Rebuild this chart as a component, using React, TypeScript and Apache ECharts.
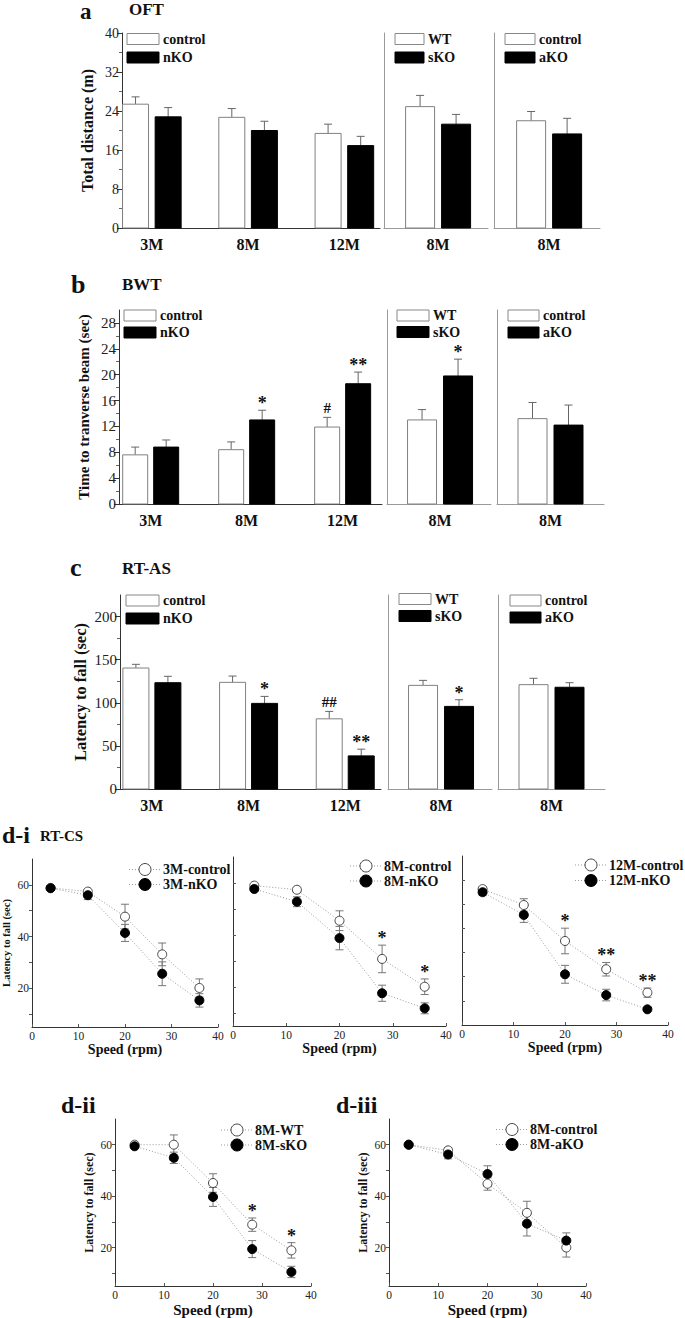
import React, { useEffect, useRef } from "react";
import * as echarts from "echarts";

const SERIF = '"Liberation Serif", "Times New Roman", serif';

// ---------------- DATA ----------------
const AGE_GROUPS = ["3M", "8M", "12M"];
const SINGLE_GROUP = ["8M"];

// a) OFT – total distance (m)
const OFT_TICKS = [0, 8, 16, 24, 32, 40];
const OFT_CONTROL = [25.4, 22.7, 19.4];
const OFT_CONTROL_SEM = [1.5, 1.8, 1.9];
const OFT_NKO = [22.8, 20.0, 16.9];
const OFT_NKO_SEM = [1.9, 1.9, 1.9];
const OFT_WT = [24.9];
const OFT_WT_SEM = [2.3];
const OFT_SKO = [21.3];
const OFT_SKO_SEM = [2.0];
const OFT_ACONTROL = [22.0];
const OFT_ACONTROL_SEM = [1.9];
const OFT_AKO = [19.3];
const OFT_AKO_SEM = [3.2];

// b) BWT – time to traverse beam (sec)
const BWT_TICKS = [0, 4, 8, 12, 16, 20, 24, 28];
const BWT_CONTROL = [7.6, 8.4, 11.9];
const BWT_CONTROL_SEM = [1.2, 1.2, 1.5];
const BWT_CONTROL_SIG = ["", "", "#"];
const BWT_NKO = [8.8, 13.0, 18.6];
const BWT_NKO_SEM = [1.1, 1.5, 1.8];
const BWT_NKO_SIG = ["", "*", "**"];
const BWT_WT = [13.0];
const BWT_WT_SEM = [1.6];
const BWT_SKO = [19.8];
const BWT_SKO_SEM = [2.6];
const BWT_SKO_SIG = ["*"];
const BWT_ACONTROL = [13.2];
const BWT_ACONTROL_SEM = [2.5];
const BWT_AKO = [12.2];
const BWT_AKO_SEM = [3.1];

// c) RT-AS – latency to fall (sec)
const RTAS_TICKS = [0, 50, 100, 150, 200];
const RTAS_CONTROL = [140.3, 123.7, 81.4];
const RTAS_CONTROL_SEM = [4.3, 7.3, 8.6];
const RTAS_CONTROL_SIG = ["", "", "##"];
const RTAS_NKO = [123.3, 99.3, 38.4];
const RTAS_NKO_SEM = [7.4, 8.1, 7.8];
const RTAS_NKO_SIG = ["", "*", "**"];
const RTAS_WT = [120.2];
const RTAS_WT_SEM = [5.8];
const RTAS_SKO = [95.8];
const RTAS_SKO_SEM = [7.7];
const RTAS_SKO_SIG = ["*"];
const RTAS_ACONTROL = [121.0];
const RTAS_ACONTROL_SEM = [7.4];
const RTAS_AKO = [118.0];
const RTAS_AKO_SEM = [5.3];

// d) RT-CS – latency to fall (sec) vs speed (rpm)
const SPEEDS = [4, 12, 20, 28, 36];
const SPEED_TICKS = [0, 10, 20, 30, 40];
const LAT_TICKS = [10, 20, 30, 40, 50, 60];
const LAT_LABELS = [20, 40, 60];

const CS_3M_CONTROL = [58.8, 57.4, 47.7, 33.1, 20.1];
const CS_3M_CONTROL_SEM = [0.5, 0.8, 4.8, 4.4, 3.5];
const CS_3M_NKO = [58.7, 56.0, 41.4, 25.6, 15.3];
const CS_3M_NKO_SEM = [0.8, 1.7, 3.3, 4.6, 2.6];

const CS_8M_CONTROL = [59.0, 57.4, 45.5, 30.8, 20.1];
const CS_8M_CONTROL_SEM = [0.6, 1.0, 3.8, 5.3, 3.0];
const CS_8M_CONTROL_SIG = ["", "", "", "*", "*"];
const CS_8M_NKO = [57.7, 52.8, 38.8, 17.6, 11.8];
const CS_8M_NKO_SEM = [0.6, 1.9, 4.5, 3.1, 2.1];

const CS_12M_CONTROL = [56.3, 49.7, 34.8, 23.1, 13.4];
const CS_12M_CONTROL_SEM = [0.8, 2.6, 5.3, 2.8, 1.9];
const CS_12M_CONTROL_SIG = ["", "", "*", "**", "**"];
const CS_12M_NKO = [55.0, 45.6, 21.0, 12.4, 6.5];
const CS_12M_NKO_SEM = [1.4, 3.1, 3.7, 2.4, 0.8];

const CS_WT = [60.0, 60.0, 45.1, 28.9, 18.9];
const CS_WT_SEM = [0.5, 3.8, 3.6, 2.6, 3.0];
const CS_WT_SIG = ["", "", "", "*", "*"];
const CS_SKO = [59.4, 54.9, 39.7, 19.4, 10.5];
const CS_SKO_SEM = [0.8, 2.2, 3.7, 3.3, 2.2];

const CS_ACONTROL = [60.0, 57.8, 44.8, 33.5, 20.0];
const CS_ACONTROL_SEM = [0.4, 1.1, 2.5, 4.5, 3.7];
const CS_AKO = [60.0, 56.2, 48.6, 29.3, 22.7];
const CS_AKO_SEM = [0.4, 1.7, 3.2, 4.8, 3.0];

// ---------------- BUILDERS ----------------
type Ctx = { grid: any[]; xAxis: any[]; yAxis: any[]; series: any[]; graphic: any[] };

type BarGroup = { name: string; values: number[]; sem: number[]; sig?: string[]; dark: boolean };
type BarPanel = {
  left: number; top: number; width: number; height: number;
  cats: string[]; xMax: number; shift: number;
  yMax: number; interval: number; ticks: number[]; main: boolean;
  tickFont?: number;
  groups: BarGroup[]; barW: number; off: number;
  yName?: string; yNameGap?: number; yNameSize?: number;
  legX: number; legY1: number; legY2: number; legW: number;
};

function textEl(x: number, y: number, text: string, size: number, bold = true, align = "left") {
  return {
    type: "text", x, y, silent: true,
    style: { text, fontFamily: SERIF, fontWeight: bold ? "bold" : "normal", fontSize: size, fill: "#111", align, verticalAlign: "middle" },
  };
}

function addBarPanel(ctx: Ctx, p: BarPanel) {
  const gi = ctx.grid.length;
  const axisColor = p.main ? "#333" : "#9a9a9a";
  ctx.grid.push({ left: p.left, top: p.top, width: p.width, height: p.height });
  ctx.xAxis.push({
    type: "value", gridIndex: gi, min: 0, max: p.xMax,
    axisLine: { show: true, onZero: false, lineStyle: { color: axisColor, width: 1 } },
    axisTick: { show: false }, splitLine: { show: false },
    axisLabel: {
      customValues: p.cats.map((_, i) => i + p.shift),
      formatter: (v: number) => p.cats[Math.round(v - p.shift)] ?? "",
      fontFamily: SERIF, fontWeight: "bold", fontSize: 16, color: "#111", margin: 8,
    },
  });
  ctx.yAxis.push({
    type: "value", gridIndex: gi, min: 0, max: p.yMax, interval: p.interval,
    axisLine: { show: true, lineStyle: { color: axisColor, width: 1 } },
    axisTick: p.main ? { show: true, inside: false, length: 5, customValues: p.ticks, lineStyle: { color: "#333" } } : { show: false },
    minorTick: p.main ? { show: true, splitNumber: 2, length: 3, lineStyle: { color: "#666" } } : { show: false },
    axisLabel: p.main ? { show: true, customValues: p.ticks, fontFamily: SERIF, fontSize: p.tickFont ?? 15, color: "#222", margin: 3 } : { show: false },
    splitLine: { show: false },
    name: p.yName, nameLocation: "middle", nameGap: p.yNameGap ?? 30,
    nameTextStyle: { fontFamily: SERIF, fontWeight: "bold", fontSize: p.yNameSize ?? 16, color: "#111" },
  });
  p.groups.forEach((g, k) => {
    const off = (k === 0 ? -1 : 1) * p.off;
    ctx.series.push({
      type: "custom", name: g.name, xAxisIndex: gi, yAxisIndex: gi, silent: true,
      data: g.values.map((v, i) => [i + p.shift, v, g.sem[i]]),
      renderItem: (params: any, api: any) => {
        const x = api.value(0), v = api.value(1), e = api.value(2);
        const pt = api.coord([x, v]);
        const base = api.coord([x, 0]);
        const et = api.coord([x, v + e]);
        const cx = pt[0] + off;
        const children: any[] = [
          { type: "line", shape: { x1: cx, y1: pt[1], x2: cx, y2: et[1] }, style: { stroke: "#666", lineWidth: 1 } },
          { type: "line", shape: { x1: cx - 4, y1: et[1], x2: cx + 4, y2: et[1] }, style: { stroke: "#666", lineWidth: 1 } },
          { type: "rect", shape: { x: cx - p.barW / 2, y: pt[1], width: p.barW, height: base[1] - pt[1] },
            style: { fill: g.dark ? "#000" : "#fff", stroke: g.dark ? "#000" : "#808080", lineWidth: 1 } },
        ];
        const sig = g.sig ? g.sig[params.dataIndex] : "";
        if (sig) {
          const isHash = sig.startsWith("#");
          children.push({
            type: "text", x: cx, y: et[1] - (isHash ? 9 : 7),
            style: { text: sig, fontFamily: SERIF, fontWeight: "bold", fontSize: isHash ? 15 : 18, fill: "#111", align: "center", verticalAlign: "middle" },
          });
        }
        return { type: "group", children };
      },
    });
  });
  const rows = [
    { y: p.legY1, g: p.groups[0] },
    { y: p.legY2, g: p.groups[1] },
  ];
  rows.forEach((r) => {
    ctx.graphic.push({
      type: "rect", silent: true,
      shape: { x: p.legX, y: r.y - 5.5, width: p.legW, height: 11 },
      style: { fill: r.g.dark ? "#000" : "#fff", stroke: r.g.dark ? "#000" : "#888", lineWidth: 1 },
    });
    ctx.graphic.push(textEl(p.legX + p.legW + 4, r.y, r.g.name, 14));
  });
}

type LineGroup = { name: string; values: number[]; sem: number[]; filled: boolean; sig?: string[] };
type LinePanel = {
  left: number; top: number; width: number; height: number;
  yMin: number; yMax: number; labels: boolean;
  yName?: string; yNameGap?: number; yNameSize?: number; xNameSize: number;
  groups: LineGroup[];
  legCx: number; legY: number; legGap: number;
};

function addLinePanel(ctx: Ctx, p: LinePanel) {
  const gi = ctx.grid.length;
  ctx.grid.push({ left: p.left, top: p.top, width: p.width, height: p.height });
  ctx.xAxis.push({
    type: "value", gridIndex: gi, min: 0, max: 40, interval: 10,
    axisLine: { show: true, onZero: false, lineStyle: { color: "#333" } },
    axisTick: { show: true, inside: true, length: 3, customValues: SPEED_TICKS, lineStyle: { color: "#555" } },
    splitLine: { show: false },
    axisLabel: { customValues: SPEED_TICKS, fontFamily: SERIF, fontSize: 11.5, color: "#222", margin: 3 },
    name: "Speed (rpm)", nameLocation: "middle", nameGap: 14,
    nameTextStyle: { fontFamily: SERIF, fontWeight: "bold", fontSize: p.xNameSize, color: "#111", verticalAlign: "top" },
  });
  ctx.yAxis.push({
    type: "value", gridIndex: gi, min: p.yMin, max: p.yMax,
    axisLine: { show: true, lineStyle: { color: "#333" } },
    axisTick: { show: true, inside: !p.labels, length: 3, customValues: LAT_TICKS, lineStyle: { color: "#555" } },
    axisLabel: p.labels ? { show: true, customValues: LAT_LABELS, fontFamily: SERIF, fontSize: 11.5, color: "#222", margin: 3 } : { show: false },
    splitLine: { show: false },
    name: p.yName, nameLocation: "middle", nameGap: p.yNameGap ?? 20,
    nameTextStyle: { fontFamily: SERIF, fontWeight: "bold", fontSize: p.yNameSize ?? 11, color: "#111" },
  });
  p.groups.forEach((g) => {
    ctx.series.push({
      type: "custom", xAxisIndex: gi, yAxisIndex: gi, z: 2, silent: true,
      data: SPEEDS.map((s, i) => [s, g.values[i], g.sem[i]]),
      renderItem: (params: any, api: any) => {
        const x = api.value(0), v = api.value(1), e = api.value(2);
        const hi = api.coord([x, v + e]);
        const lo = api.coord([x, v - e]);
        const cx = hi[0];
        const st = { stroke: "#777", lineWidth: 1 };
        const children: any[] = [
          { type: "line", shape: { x1: cx, y1: hi[1], x2: cx, y2: lo[1] }, style: st },
          { type: "line", shape: { x1: cx - 4, y1: hi[1], x2: cx + 4, y2: hi[1] }, style: st },
          { type: "line", shape: { x1: cx - 4, y1: lo[1], x2: cx + 4, y2: lo[1] }, style: st },
        ];
        const sig = g.sig ? g.sig[params.dataIndex] : "";
        if (sig) {
          children.push({
            type: "text", x: cx, y: hi[1] - 7,
            style: { text: sig, fontFamily: SERIF, fontWeight: "bold", fontSize: 18, fill: "#111", align: "center", verticalAlign: "middle" },
          });
        }
        return { type: "group", children };
      },
    });
    ctx.series.push({
      type: "line", name: g.name, xAxisIndex: gi, yAxisIndex: gi, z: 3, silent: true,
      data: SPEEDS.map((s, i) => [s, g.values[i]]),
      symbol: "circle", symbolSize: 9,
      itemStyle: { color: g.filled ? "#000" : "#fff", borderColor: g.filled ? "#000" : "#444", borderWidth: 1 },
      lineStyle: { color: "#9a9a9a", width: 1, type: [1, 2] },
    });
  });
  p.groups.forEach((g, k) => {
    const y = p.legY + k * p.legGap;
    ctx.graphic.push({
      type: "line", silent: true,
      shape: { x1: p.legCx - 16, y1: y, x2: p.legCx + 15, y2: y },
      style: { stroke: "#9a9a9a", lineWidth: 1, lineDash: [1, 2] },
    });
    ctx.graphic.push({
      type: "circle", silent: true,
      shape: { cx: p.legCx, cy: y, r: 6 },
      style: { fill: g.filled ? "#000" : "#fff", stroke: g.filled ? "#000" : "#444", lineWidth: 1 },
    });
    ctx.graphic.push(textEl(p.legCx + 18, y, g.name, 14));
  });
}

function buildOption() {
  const ctx: Ctx = { grid: [], xAxis: [], yAxis: [], series: [], graphic: [] };

  // ---- Panel a ----
  addBarPanel(ctx, {
    left: 122, top: 33, width: 258, height: 195, cats: AGE_GROUPS, xMax: 2.68, shift: 0.31,
    yMax: 40, interval: 8, ticks: OFT_TICKS, main: true, tickFont: 14, barW: 26, off: 16.3,
    yName: "Total distance (m)", yNameGap: 27, yNameSize: 16,
    groups: [
      { name: "control", values: OFT_CONTROL, sem: OFT_CONTROL_SEM, dark: false },
      { name: "nKO", values: OFT_NKO, sem: OFT_NKO_SEM, dark: true },
    ],
    legX: 127, legY1: 39, legY2: 57.5, legW: 32,
  });
  addBarPanel(ctx, {
    left: 384, top: 33, width: 104, height: 195, cats: SINGLE_GROUP, xMax: 1, shift: 0.52,
    yMax: 40, interval: 8, ticks: OFT_TICKS, main: false, barW: 29, off: 18,
    groups: [
      { name: "WT", values: OFT_WT, sem: OFT_WT_SEM, dark: false },
      { name: "sKO", values: OFT_SKO, sem: OFT_SKO_SEM, dark: true },
    ],
    legX: 395, legY1: 39, legY2: 57.5, legW: 29,
  });
  addBarPanel(ctx, {
    left: 494, top: 33, width: 106, height: 195, cats: SINGLE_GROUP, xMax: 1, shift: 0.52,
    yMax: 40, interval: 8, ticks: OFT_TICKS, main: false, barW: 29, off: 18,
    groups: [
      { name: "control", values: OFT_ACONTROL, sem: OFT_ACONTROL_SEM, dark: false },
      { name: "aKO", values: OFT_AKO, sem: OFT_AKO_SEM, dark: true },
    ],
    legX: 505, legY1: 39, legY2: 57.5, legW: 30,
  });

  // ---- Panel b ----
  addBarPanel(ctx, {
    left: 119, top: 310, width: 263, height: 194, cats: AGE_GROUPS, xMax: 2.74, shift: 0.33,
    yMax: 30, interval: 4, ticks: BWT_TICKS, main: true, tickFont: 15, barW: 25, off: 15.5,
    yName: "Time to tranverse beam (sec)", yNameGap: 28, yNameSize: 15,
    groups: [
      { name: "control", values: BWT_CONTROL, sem: BWT_CONTROL_SEM, sig: BWT_CONTROL_SIG, dark: false },
      { name: "nKO", values: BWT_NKO, sem: BWT_NKO_SEM, sig: BWT_NKO_SIG, dark: true },
    ],
    legX: 124, legY1: 315.5, legY2: 332.5, legW: 32,
  });
  addBarPanel(ctx, {
    left: 387, top: 310, width: 104, height: 194, cats: SINGLE_GROUP, xMax: 1, shift: 0.51,
    yMax: 30, interval: 4, ticks: BWT_TICKS, main: false, barW: 29, off: 18,
    groups: [
      { name: "WT", values: BWT_WT, sem: BWT_WT_SEM, dark: false },
      { name: "sKO", values: BWT_SKO, sem: BWT_SKO_SEM, sig: BWT_SKO_SIG, dark: true },
    ],
    legX: 397, legY1: 315.5, legY2: 332, legW: 32,
  });
  addBarPanel(ctx, {
    left: 497, top: 310, width: 107, height: 194, cats: SINGLE_GROUP, xMax: 1, shift: 0.5,
    yMax: 30, interval: 4, ticks: BWT_TICKS, main: false, barW: 29, off: 18,
    groups: [
      { name: "control", values: BWT_ACONTROL, sem: BWT_ACONTROL_SEM, dark: false },
      { name: "aKO", values: BWT_AKO, sem: BWT_AKO_SEM, dark: true },
    ],
    legX: 508, legY1: 315.5, legY2: 332.5, legW: 31,
  });

  // ---- Panel c ----
  addBarPanel(ctx, {
    left: 120, top: 595, width: 261, height: 194, cats: AGE_GROUPS, xMax: 2.7, shift: 0.33,
    yMax: 225, interval: 50, ticks: RTAS_TICKS, main: true, tickFont: 15, barW: 26, off: 16,
    yName: "Latency to fall (sec)", yNameGap: 31, yNameSize: 16.5,
    groups: [
      { name: "control", values: RTAS_CONTROL, sem: RTAS_CONTROL_SEM, sig: RTAS_CONTROL_SIG, dark: false },
      { name: "nKO", values: RTAS_NKO, sem: RTAS_NKO_SEM, sig: RTAS_NKO_SIG, dark: true },
    ],
    legX: 126, legY1: 600.5, legY2: 618.5, legW: 33,
  });
  addBarPanel(ctx, {
    left: 388, top: 595, width: 104, height: 194, cats: SINGLE_GROUP, xMax: 1, shift: 0.51,
    yMax: 225, interval: 50, ticks: RTAS_TICKS, main: false, barW: 29, off: 18,
    groups: [
      { name: "WT", values: RTAS_WT, sem: RTAS_WT_SEM, dark: false },
      { name: "sKO", values: RTAS_SKO, sem: RTAS_SKO_SEM, sig: RTAS_SKO_SIG, dark: true },
    ],
    legX: 399, legY1: 599, legY2: 616, legW: 32,
  });
  addBarPanel(ctx, {
    left: 498, top: 595, width: 107, height: 194, cats: SINGLE_GROUP, xMax: 1, shift: 0.5,
    yMax: 225, interval: 50, ticks: RTAS_TICKS, main: false, barW: 29, off: 18,
    groups: [
      { name: "control", values: RTAS_ACONTROL, sem: RTAS_ACONTROL_SEM, dark: false },
      { name: "aKO", values: RTAS_AKO, sem: RTAS_AKO_SEM, dark: true },
    ],
    legX: 510, legY1: 600.5, legY2: 617.5, legW: 31,
  });

  // ---- Panel d-i ----
  addLinePanel(ctx, {
    left: 32, top: 859, width: 186, height: 168, yMin: 5, yMax: 70, labels: true,
    yName: "Latency to fall (sec)", yNameGap: 20, yNameSize: 10.5, xNameSize: 14,
    groups: [
      { name: "3M-control", values: CS_3M_CONTROL, sem: CS_3M_CONTROL_SEM, filled: false },
      { name: "3M-nKO", values: CS_3M_NKO, sem: CS_3M_NKO_SEM, filled: true },
    ],
    legCx: 145, legY: 869.5, legGap: 15,
  });
  addLinePanel(ctx, {
    left: 233, top: 857, width: 213, height: 169, yMin: 5, yMax: 70, labels: false, xNameSize: 14,
    groups: [
      { name: "8M-control", values: CS_8M_CONTROL, sem: CS_8M_CONTROL_SEM, sig: CS_8M_CONTROL_SIG, filled: false },
      { name: "8M-nKO", values: CS_8M_NKO, sem: CS_8M_NKO_SEM, filled: true },
    ],
    legCx: 366, legY: 866, legGap: 15,
  });
  addLinePanel(ctx, {
    left: 462, top: 856, width: 206, height: 169, yMin: 0, yMax: 70, labels: false, xNameSize: 14,
    groups: [
      { name: "12M-control", values: CS_12M_CONTROL, sem: CS_12M_CONTROL_SEM, sig: CS_12M_CONTROL_SIG, filled: false },
      { name: "12M-nKO", values: CS_12M_NKO, sem: CS_12M_NKO_SEM, filled: true },
    ],
    legCx: 591, legY: 865, legGap: 15.5,
  });

  // ---- Panel d-ii / d-iii ----
  addLinePanel(ctx, {
    left: 115, top: 1119, width: 196, height: 170, yMin: 5, yMax: 70, labels: true,
    yName: "Latency to fall (sec)", yNameGap: 20, yNameSize: 12, xNameSize: 15,
    groups: [
      { name: "8M-WT", values: CS_WT, sem: CS_WT_SEM, sig: CS_WT_SIG, filled: false },
      { name: "8M-sKO", values: CS_SKO, sem: CS_SKO_SEM, filled: true },
    ],
    legCx: 237, legY: 1130, legGap: 15,
  });
  addLinePanel(ctx, {
    left: 389, top: 1119, width: 197, height: 170, yMin: 5, yMax: 70, labels: true,
    yName: "Latency to fall (sec)", yNameGap: 20, yNameSize: 12, xNameSize: 15,
    groups: [
      { name: "8M-control", values: CS_ACONTROL, sem: CS_ACONTROL_SEM, filled: false },
      { name: "8M-aKO", values: CS_AKO, sem: CS_AKO_SEM, filled: true },
    ],
    legCx: 512, legY: 1129.5, legGap: 15,
  });

  // ---- Panel titles ----
  ctx.graphic.push(textEl(80, 11.5, "a", 23));
  ctx.graphic.push(textEl(129, 9, "OFT", 17));
  ctx.graphic.push(textEl(71, 284.5, "b", 26));
  ctx.graphic.push(textEl(122, 284.5, "BWT", 17));
  ctx.graphic.push(textEl(70, 567.5, "c", 26));
  ctx.graphic.push(textEl(122, 568.5, "RT-AS", 17));
  ctx.graphic.push(textEl(2, 835, "d-i", 24));
  ctx.graphic.push(textEl(40, 835.5, "RT-CS", 15));
  ctx.graphic.push(textEl(61, 1105, "d-ii", 24));
  ctx.graphic.push(textEl(336, 1105, "d-iii", 24));

  return {
    animation: false,
    backgroundColor: "#ffffff",
    grid: ctx.grid,
    xAxis: ctx.xAxis,
    yAxis: ctx.yAxis,
    series: ctx.series,
    graphic: { elements: ctx.graphic },
  };
}

export default function App() {
  const ref = useRef<HTMLDivElement>(null);
  useEffect(() => {
    if (!ref.current) return;
    const chart = echarts.init(ref.current, undefined, { renderer: "svg" });
    chart.setOption(buildOption() as any);
    return () => chart.dispose();
  }, []);
  return (
    <div
      ref={ref}
      style={{ position: "absolute", left: 0, top: 0, width: 685, height: 1318, background: "#fff" }}
    />
  );
}
